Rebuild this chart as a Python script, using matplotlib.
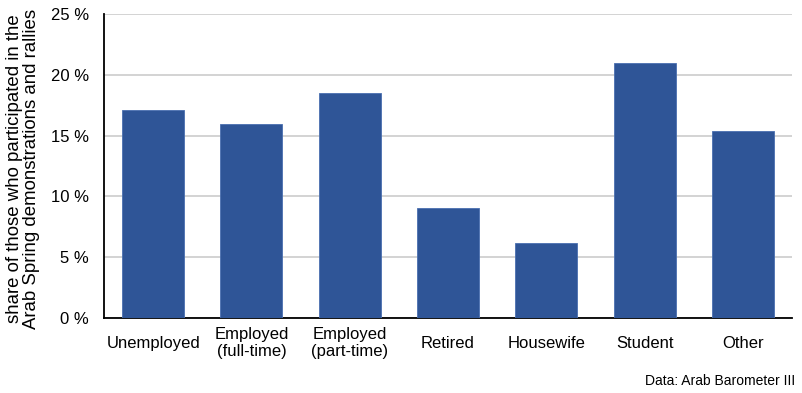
import matplotlib
matplotlib.use("Agg")
import matplotlib.pyplot as plt

categories = ["Unemployed", "Employed\n(full-time)", "Employed\n(part-time)", "Retired", "Housewife", "Student", "Other"]
values = [17.1, 15.95, 18.5, 9.05, 6.17, 20.97, 15.38]
yticks = [0, 5, 10, 15, 20, 25]
ytick_labels = ["0 %", "5 %", "10 %", "15 %", "20 %", "25 %"]

plt.rcParams['font.family'] = ['Liberation Sans', 'DejaVu Sans']

fig = plt.figure(figsize=(8.02, 3.93), dpi=100)
ax = fig.add_axes([0.1297, 0.1908, 0.8578, 0.7736])
x = list(range(len(categories)))
ax.bar(x, values, width=0.63, color="#2F5597", edgecolor="#4A6FB0", linewidth=0.6, zorder=3)
ax.set_xlim(-0.5, len(categories) - 0.5)
ax.set_ylim(0, 25)
ax.set_yticks(yticks)
ax.set_yticklabels(ytick_labels, fontsize=12)
ax.set_xticks(x)
ax.set_xticklabels(categories, fontsize=12, linespacing=1.2, va="center")
ax.tick_params(axis='y', length=0, pad=11)
ax.tick_params(axis='x', length=0, pad=18)
ax.yaxis.grid(True, color="#D3D3D3", linewidth=1.4, zorder=0)
ax.set_axisbelow(True)
for s in ["top", "right"]:
    ax.spines[s].set_visible(False)
ax.spines["left"].set_color("black")
ax.spines["left"].set_linewidth(1.3)
ax.spines["bottom"].set_color("black")
ax.spines["bottom"].set_linewidth(1.3)
ax.set_ylabel("share of those who participated in the\nArab Spring demonstrations and rallies", fontsize=13.4, linespacing=1.0, va="center")
ax.yaxis.set_label_coords(-0.118, 0.49)
fig.text(0.991, 0.03, "Data: Arab Barometer III", ha="right", va="center", fontsize=10)
fig.savefig("out.png", dpi=100)
